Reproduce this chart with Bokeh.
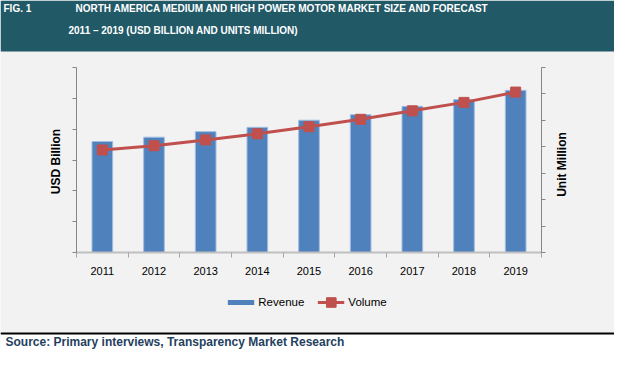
import math
from bokeh.plotting import figure
from bokeh.models import (Range1d, LinearAxis, FixedTicker, BoxAnnotation, Label,
                          Legend, LegendItem, ColumnDataSource)
from bokeh.embed import file_html
from bokeh.resources import INLINE

# ---------------- data ----------------
years = ["2011", "2012", "2013", "2014", "2015", "2016", "2017", "2018", "2019"]
revenue = [3.60, 3.74, 3.92, 4.06, 4.29, 4.47, 4.74, 4.96, 5.26]   # USD Billion (left axis)
volume = [3.88, 4.04, 4.26, 4.49, 4.76, 5.04, 5.36, 5.68, 6.07]    # Unit Million (right axis)
left_ticks = [0, 1, 2, 3, 4, 5, 6]
right_ticks = [0, 1, 2, 3, 4, 5, 6, 7]

title_1 = "NORTH AMERICA MEDIUM AND HIGH POWER MOTOR MARKET SIZE AND FORECAST"
title_2 = "2011 \u2013 2019 (USD BILLION AND UNITS MILLION)"
fig_no = "FIG. 1"
source_text = "Source:  Primary interviews, Transparency Market Research"

# ---------------- layout (pixels) ----------------
W, H = 614, 350
PL, PR, PT, PB = 76, 541, 67, 252          # plot area
N = len(years)
SX = (PR - PL) / N
SYL = (PB - PT) / left_ticks[-1]
SYR = (PB - PT) / right_ticks[-1]

HEADER = "#215967"
BG = "#f2f2f2"
BLUE = "#4f81bd"
RED = "#c0504d"
AXIS_GREY = "#868686"


def X(px):
    return (px - PL) / SX


def Y(py):
    return (PB - py) / SYL


p = figure(frame_width=W, frame_height=H, min_border=0,
           output_backend="svg", toolbar_location=None,
           x_range=Range1d(X(0), X(W)), y_range=Range1d(Y(H), Y(0)),
           x_axis_location=None, y_axis_location=None)
p.extra_y_ranges = {"vol": Range1d(-(H - PB) / SYR, PB / SYR)}
p.background_fill_color = BG
p.border_fill_color = BG
p.outline_line_color = None
p.grid.visible = False

xs = [i + 0.5 for i in range(N)]
src = ColumnDataSource(dict(x=xs, year=years, revenue=revenue, volume=volume))

bars = p.vbar(x="x", top="revenue", width=0.4, source=src,
              fill_color=BLUE, line_color="#a3bde0", line_width=1)
vline = p.line(x="x", y="volume", source=src, y_range_name="vol",
               line_color=RED, line_width=3)
vmarks = p.scatter(x="x", y="volume", source=src, y_range_name="vol",
                   marker="square", size=10, fill_color=RED, line_color=RED)
# hidden renderer, only used for the legend swatch of the bars
rev_swatch = p.line(x="x", y="revenue", source=src, line_color=BLUE, line_width=5,
                    visible=False)

# ---------------- axes ----------------
xaxis = LinearAxis(fixed_location=0, bounds=(0, N),
                   ticker=FixedTicker(ticks=xs, minor_ticks=list(range(N + 1))),
                   major_label_overrides={x: y for x, y in zip(xs, years)})
xaxis.major_tick_out = 0
xaxis.major_tick_in = 0
xaxis.minor_tick_out = 5
xaxis.minor_tick_in = 0
xaxis.minor_tick_line_color = "#a6a6a6"
xaxis.axis_line_color = "#bfbfbf"
xaxis.axis_line_width = 2
xaxis.major_label_text_font = "Liberation Sans"
xaxis.major_label_text_font_size = "11px"
xaxis.major_label_text_color = "#000000"
xaxis.major_label_standoff = 9
p.add_layout(xaxis, "below")

for ticks, rng, side, loc in ((left_ticks, "default", "left", 0),
                              (right_ticks, "vol", "right", N)):
    ax = LinearAxis(y_range_name=rng, fixed_location=loc, bounds=(0, ticks[-1]),
                    ticker=FixedTicker(ticks=ticks, minor_ticks=[]),
                    major_label_overrides={t: " " for t in ticks})
    ax.major_tick_out = 4
    ax.major_tick_in = 0
    ax.minor_tick_out = 0
    ax.minor_tick_in = 0
    ax.axis_line_color = AXIS_GREY
    ax.major_tick_line_color = AXIS_GREY
    ax.major_label_standoff = 0
    ax.major_label_text_font_size = "10px"
    p.add_layout(ax, side)

axt = dict(text_color="#000000", text_font="Liberation Sans", text_font_style="bold",
           text_font_size="12px", text_baseline="middle", text_align="center",
           angle=math.pi / 2)
p.add_layout(Label(x=X(55), y=Y(161), text="USD Billion", **axt))
p.add_layout(Label(x=X(561), y=Y(164), text="Unit Million", **axt))

# ---------------- legend ----------------
legend = Legend(items=[LegendItem(label="Revenue", renderers=[rev_swatch]),
                       LegendItem(label="Volume", renderers=[vline, vmarks])],
                orientation="horizontal", location="bottom_center",
                glyph_width=27, glyph_height=24, label_height=24,
                label_text_font="Liberation Sans", label_text_font_size="11.5px",
                label_text_color="#000000", label_standoff=4, spacing=13,
                padding=0, margin=36, background_fill_alpha=0, border_line_color=None)
p.add_layout(legend)

# ---------------- header / footer ----------------
p.add_layout(BoxAnnotation(left=X(0), right=X(W), top=Y(0), bottom=Y(51),
                           fill_color=HEADER, fill_alpha=1, line_color=None))
p.add_layout(BoxAnnotation(left=X(0), right=X(W), top=Y(332), bottom=Y(H),
                           fill_color="#ffffff", fill_alpha=1, line_color=None))
p.add_layout(BoxAnnotation(left=X(0), right=X(W), top=Y(332), bottom=Y(334),
                           fill_color="#000000", fill_alpha=1, line_color=None))

hdr = dict(text_color="#ffffff", text_font="Liberation Sans", text_font_style="bold",
           text_font_size="10px", text_baseline="middle", text_align="left")
p.add_layout(Label(x=X(3), y=Y(8), text=fig_no, **hdr))
p.add_layout(Label(x=X(75), y=Y(8), text=title_1, **hdr))
p.add_layout(Label(x=X(68), y=Y(30), text=title_2, **hdr))

p.add_layout(Label(x=X(5), y=Y(341.5), text=source_text, text_color="#253f5f",
                   text_font="Liberation Sans", text_font_style="bold",
                   text_font_size="12px", text_baseline="middle", text_align="left"))

open("out.html", "w").write(file_html(p, INLINE))
